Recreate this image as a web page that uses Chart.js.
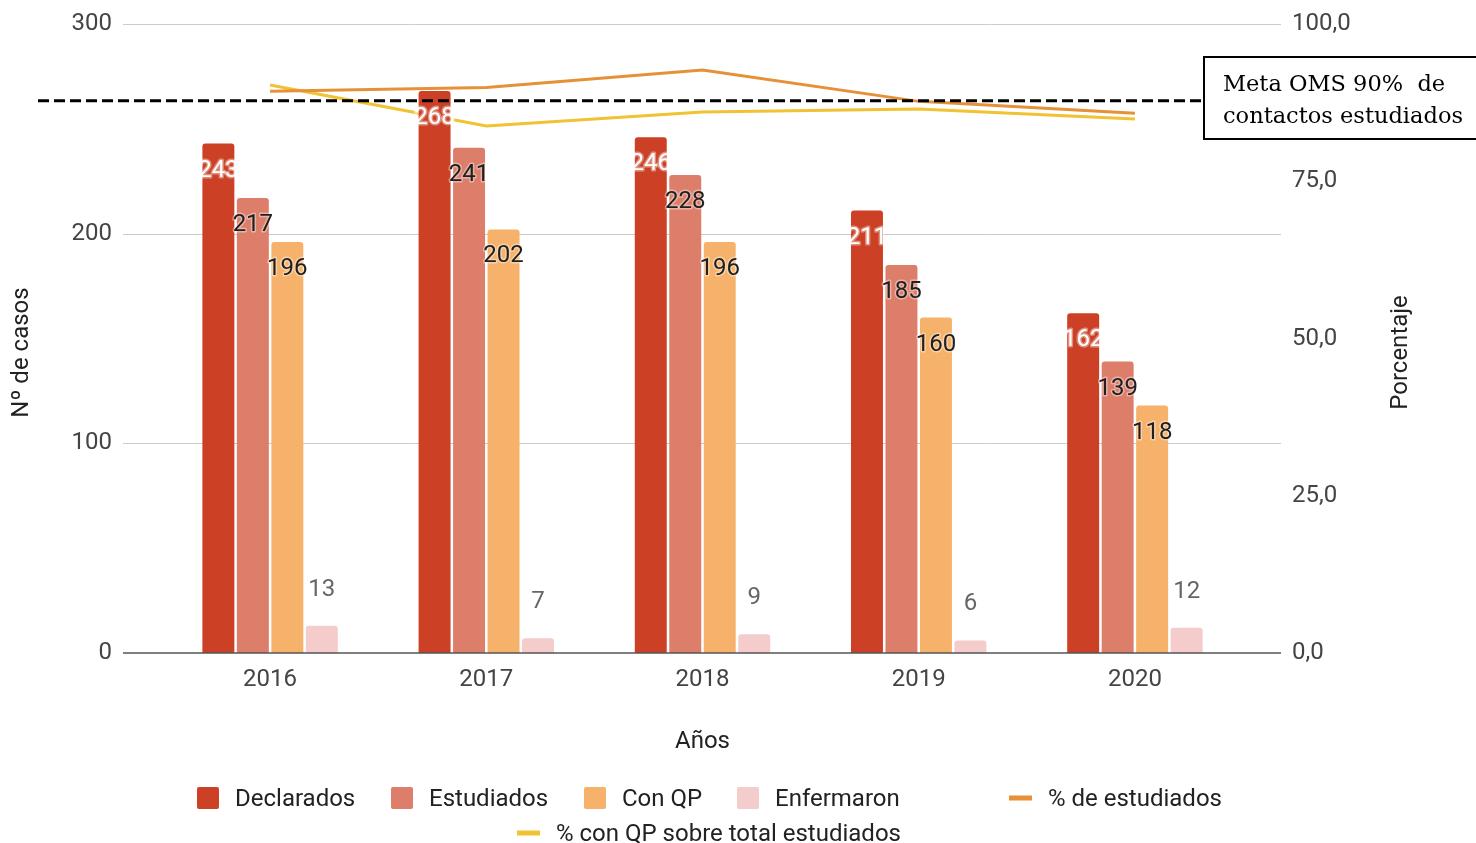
<!DOCTYPE html>
<html><head><meta charset="utf-8">
<script src="https://cdn.jsdelivr.net/npm/chart.js@4.4.1/dist/chart.umd.min.js"></script>
<style>html,body{margin:0;padding:0;background:#fff;}#wrap{width:1476px;height:843px;position:relative;}</style>
</head><body><div id="wrap"><canvas id="c" width="1476" height="843"></canvas></div>
<script>
const years = ['2016','2017','2018','2019','2020'];
const declarados = [243,268,246,211,162];
const estudiados = [217,241,228,185,139];
const conQP = [196,202,196,160,118];
const enfermaron = [13,7,9,6,12];
const pctEstudiados = [89.3,89.9,92.7,87.7,85.8];
const pctConQP = [90.3,83.8,86.0,86.5,84.9];
const leftTicks = [0,100,200,300];
const rightTicks = [0,25,50,75,100];
const metaValue = 87.8;
const metaText = ['Meta OMS 90%  de','contactos estudiados'];
const leftTitle = 'Nº de casos';
const rightTitle = 'Porcentaje';

const FONT = 'Roboto';
const FS = 24;

const gridPlugin = {
  id:'grid',
  beforeDatasetsDraw(chart){
    const {ctx, chartArea:a, scales:{y}} = chart;
    ctx.save();
    ctx.strokeStyle = '#cccccc'; ctx.lineWidth = 1;
    leftTicks.forEach(v=>{ if(v===0) return;
      const py = Math.round(y.getPixelForValue(v))+0.5;
      ctx.beginPath(); ctx.moveTo(a.left-39,py); ctx.lineTo(a.right+38,py); ctx.stroke();
    });
    ctx.restore();
  },
  afterDatasetsDraw(chart){
    const {ctx, chartArea:a, scales:{y, y1}} = chart;
    ctx.save();
    // baseline
    ctx.strokeStyle = '#555'; ctx.lineWidth = 1.5;
    const by = y.getPixelForValue(0);
    ctx.beginPath(); ctx.moveTo(a.left-39,by); ctx.lineTo(a.right+38,by); ctx.stroke();
    // meta dashed line
    const my = y1.getPixelForValue(metaValue);
    ctx.strokeStyle = '#000'; ctx.lineWidth = 3; ctx.setLineDash([11,5]);
    ctx.beginPath(); ctx.moveTo(38,my); ctx.lineTo(1203,my); ctx.stroke();
    ctx.setLineDash([]);
    // box
    ctx.fillStyle = '#fff'; ctx.fillRect(1203,56,280,84);
    ctx.strokeStyle = '#000'; ctx.lineWidth = 2;
    ctx.strokeRect(1204,57,290,82);
    ctx.fillStyle = '#000';
    ctx.font = '22px "DejaVu Serif"';
    ctx.textBaseline = 'alphabetic'; ctx.textAlign = 'left';
    const w = ctx.measureText(metaText[1]).width;
    const sx = 240 / w;
    [[metaText[0],91],[metaText[1],123]].forEach(([t,ty])=>{
      ctx.save(); ctx.translate(1223,ty); ctx.scale(sx,1); ctx.fillText(t,0,0); ctx.restore();
    });
    // data labels
    ctx.font = FS + 'px ' + FONT;
    ctx.textAlign = 'center'; ctx.textBaseline = 'middle';
    ctx.lineJoin = 'round';
    chart.data.datasets.forEach((ds,i)=>{
      if(ds.type==='line') return;
      const meta = chart.getDatasetMeta(i);
      meta.data.forEach((bar,j)=>{
        const txt = String(ds.data[j]);
        if(i===3){
          ctx.fillStyle = '#666';
          ctx.fillText(txt, bar.x, bar.y-36);
        } else {
          const ty = bar.y + 27;
          ctx.lineWidth = 3;
          ctx.strokeStyle = 'rgba(255,255,255,0.4)';
          ctx.strokeText(txt, bar.x, ty);
          ctx.fillStyle = i===0 ? '#ffffff' : '#202020';
          ctx.fillText(txt, bar.x, ty);
        }
      });
    });
    ctx.restore();
  },
  afterDraw(chart){
    const {ctx, chartArea:a} = chart;
    const items = [
      {ds:0,x:197,y:800},{ds:1,x:391,y:800},{ds:2,x:584,y:800},{ds:3,x:737,y:800},
      {ds:4,x:1009,y:800},{ds:5,x:517,y:835}
    ];
    ctx.save();
    ctx.font = FS + 'px ' + FONT;
    ctx.textBaseline = 'middle'; ctx.textAlign = 'left';
    items.forEach(it=>{
      const ds = chart.data.datasets[it.ds];
      if(ds.type==='line'){
        ctx.fillStyle = ds.borderColor;
        ctx.fillRect(it.x, it.y-4.5, 23, 5);
        ctx.fillStyle = '#222';
        ctx.fillText(ds.label, it.x+39, it.y);
      } else {
        ctx.fillStyle = ds.backgroundColor;
        ctx.beginPath(); ctx.roundRect(it.x, it.y-13, 22, 22, 2); ctx.fill();
        ctx.fillStyle = '#222';
        ctx.fillText(ds.label, it.x+38, it.y);
      }
    });
    // axis titles, reading bottom-to-top
    const cy = (a.top+a.bottom)/2 + 14;
    ctx.textAlign = 'center';
    [[leftTitle,22],[rightTitle,1401]].forEach(([t,x])=>{
      ctx.save();
      ctx.translate(x, cy);
      ctx.rotate(-Math.PI/2);
      ctx.fillText(t, 0, 0);
      ctx.restore();
    });
    ctx.restore();
  }
};

const barCommon = {borderRadius:{topLeft:3,topRight:3,bottomLeft:0,bottomRight:0}, borderSkipped:'bottom',
  categoryPercentage:0.638, barPercentage:0.927, yAxisID:'y', order:1};

function noPad(s){ s.paddingTop = 0; s.paddingBottom = 0; }

new Chart(document.getElementById('c'), {
  type:'bar',
  data:{
    labels: years,
    datasets:[
      Object.assign({label:'Declarados', data:declarados, backgroundColor:'#cc4125'}, barCommon),
      Object.assign({label:'Estudiados', data:estudiados, backgroundColor:'#dd7e6b'}, barCommon),
      Object.assign({label:'Con QP', data:conQP, backgroundColor:'#f6b26b'}, barCommon),
      Object.assign({label:'Enfermaron', data:enfermaron, backgroundColor:'#f4cccc'}, barCommon),
      {type:'line', label:'% de estudiados', data:pctEstudiados, borderColor:'#e69138', backgroundColor:'#e69138', borderWidth:3, pointRadius:0, tension:0, yAxisID:'y1', order:2},
      {type:'line', label:'% con QP sobre total estudiados', data:pctConQP, borderColor:'#f1c232', backgroundColor:'#f1c232', borderWidth:3, pointRadius:0, tension:0, yAxisID:'y1', order:2}
    ]
  },
  options:{
    responsive:false, devicePixelRatio:1, animation:false,
    layout:{padding:{top:24,left:0,right:0,bottom:0}},
    plugins:{legend:{display:false}, tooltip:{enabled:false}},
    scales:{
      x:{
        grid:{display:false}, border:{display:false},
        ticks:{color:'#444', font:{family:FONT,size:FS}, padding:5, maxRotation:0},
        title:{display:true, text:'Años', color:'#222', font:{family:FONT,size:FS}, padding:{top:0,bottom:87}},
        afterFit(s){ s.height = 190; }
      },
      y:{
        position:'left', min:0, max:300,
        afterBuildTicks(s){ s.ticks = leftTicks.map(v=>({value:v})); },
        grid:{display:false}, border:{display:false},
        ticks:{color:'#444', font:{family:FONT,size:FS}, padding:42},
        afterFit(s){ s.width = 162; noPad(s); }
      },
      y1:{
        position:'right', min:0, max:100,
        afterBuildTicks(s){ s.ticks = rightTicks.map(v=>({value:v})); },
        grid:{display:false}, border:{display:false},
        ticks:{color:'#444', font:{family:FONT,size:FS}, padding:41, callback:v=>Number(v).toFixed(1).replace('.',',')},
        afterFit(s){ s.width = 233; noPad(s); }
      }
    }
  },
  plugins:[gridPlugin]
});
</script></body></html>
